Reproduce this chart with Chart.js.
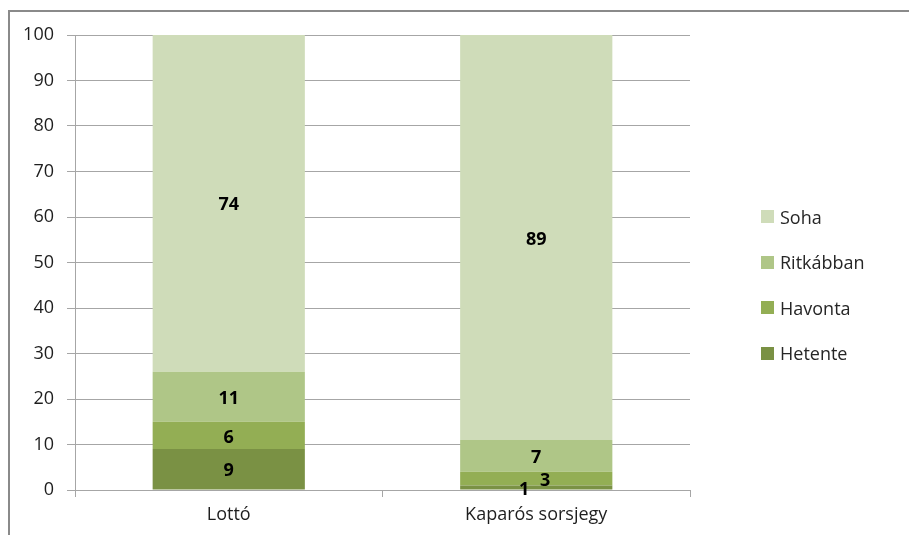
<!DOCTYPE html>
<html>
<head>
<meta charset="utf-8">
<script src="https://cdn.jsdelivr.net/npm/chart.js@4/dist/chart.umd.min.js"></script>
<style>
  html, body { margin: 0; padding: 0; background: #fff; overflow: hidden; }
  #wrap { position: relative; width: 909px; height: 535px; }
  #frame { position: absolute; left: 8px; top: 10px; width: 1000px; height: 1000px;
           border-left: 2px solid #8a8a8a; border-top: 2px solid #8a8a8a; pointer-events: none; }
  canvas { position: absolute; left: 0; top: 0; }
  #legend { position: absolute; left: 761px; top: 194px; font-family: 'Open Sans', sans-serif;
            font-size: 18px; color: #262626; }
  .item { display: flex; align-items: center; height: 45.5px; line-height: 24px; margin-top: 0; }
  .box { width: 13px; height: 13px; margin-right: 6px; }
</style>
</head>
<body>
<div id="wrap">
  <canvas id="c" width="909" height="535"></canvas>
  <div id="frame"></div>
  <div id="legend"></div>
</div>
<script>
const categories = ['Lottó', 'Kaparós sorsjegy'];
const seriesNames = ['Hetente', 'Havonta', 'Ritkábban', 'Soha'];
const hetente = [9, 1];
const havonta = [6, 3];
const ritkabban = [11, 7];
const soha = [74, 89];
const colors = ['#7a9144', '#93ae54', '#afc687', '#cfdcb9'];
const yTicks = [0, 10, 20, 30, 40, 50, 60, 70, 80, 90, 100];

const values = [hetente, havonta, ritkabban, soha];
const FONT = "'Open Sans', sans-serif";
const GRID = '#a6a6a6';

const labelPlugin = {
  id: 'segLabels',
  afterDatasetsDraw(chart) {
    const ctx = chart.ctx;
    ctx.save();
    ctx.font = "bold 18px " + FONT;
    ctx.fillStyle = '#000';
    ctx.textAlign = 'center';
    ctx.textBaseline = 'middle';
    chart.data.datasets.forEach((ds, di) => {
      const meta = chart.getDatasetMeta(di);
      meta.data.forEach((bar, i) => {
        const v = ds.data[i];
        const top = bar.y, bottom = bar.base;
        const h = Math.abs(bottom - top);
        let x = bar.x, y = (top + bottom) / 2 + 2;
        if (h < 16) { x += (di % 2 === 0) ? -12 : 9; y += (di % 2 === 0) ? 0 : 0; }
        ctx.fillText(String(v), x, y);
      });
    });
    ctx.restore();
  }
};

new Chart(document.getElementById('c'), {
  type: 'bar',
  data: {
    labels: categories,
    datasets: seriesNames.map((n, k) => ({
      label: n,
      data: values[k],
      backgroundColor: colors[k],
      borderWidth: 0,
      categoryPercentage: 1,
      barPercentage: 0.495
    }))
  },
  options: {
    responsive: false,
    animation: false,
    layout: { padding: { left: 0, right: 219, top: 35, bottom: 0 } },
    plugins: { legend: { display: false }, tooltip: { enabled: false } },
    scales: {
      x: {
        stacked: true,
        afterFit(s) { s.height = 45; },
        grid: { display: true, drawOnChartArea: false, color: GRID, tickLength: 7, offset: true },
        border: { display: true, color: GRID, width: 1 },
        ticks: { font: { family: FONT, size: 18 }, color: '#1e1e1e', padding: 7 }
      },
      y: {
        stacked: true,
        min: 0, max: 100,
        afterFit(s) { s.width = 75; },
        afterBuildTicks(s) { s.ticks = yTicks.map(v => ({ value: v })); },
        grid: { color: GRID, tickLength: 8 },
        border: { display: true, color: GRID, width: 1 },
        ticks: { font: { family: FONT, size: 18 }, color: '#1e1e1e', padding: 13 }
      }
    }
  },
  plugins: [labelPlugin]
});

const lg = document.getElementById('legend');
for (let k = seriesNames.length - 1; k >= 0; k--) {
  const d = document.createElement('div');
  d.className = 'item';
  const b = document.createElement('span');
  b.className = 'box';
  b.style.background = colors[k];
  const t = document.createElement('span');
  t.textContent = seriesNames[k];
  d.appendChild(b); d.appendChild(t);
  lg.appendChild(d);
}
</script>
</body>
</html>
